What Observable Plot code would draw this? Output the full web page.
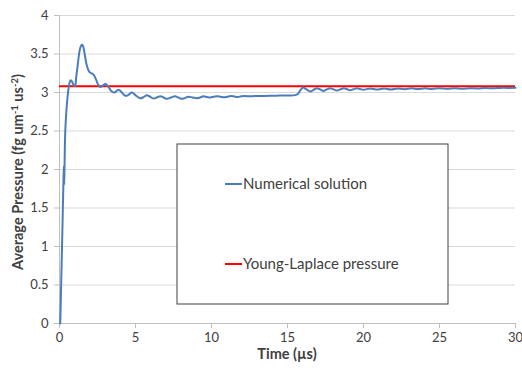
<!DOCTYPE html>
<html><head><meta charset="utf-8">
<script src="https://cdn.jsdelivr.net/npm/d3@7"></script>
<script src="https://cdn.jsdelivr.net/npm/@observablehq/plot@0.6"></script>
<style>body{margin:0;background:#fff} #chart svg{font-family:Lato,"Open Sans",sans-serif}</style>
</head><body><div id="chart"></div>
<script>
const time = [0.05,0.12,0.2,0.26,0.29,0.31,0.34,0.38,0.45,0.52,0.6,0.68,0.75,0.83,0.92,1.02,1.1,1.2,1.32,1.42,1.5,1.58,1.68,1.8,1.95,2.1,2.25,2.4,2.55,2.7,2.85,3.02,3.2,3.4,3.6,3.88,4.1,4.32,4.54,4.76,5.03,5.31,5.53,5.75,5.96,6.18,6.4,6.63,6.85,7.07,7.33,7.6,7.82,8.05,8.27,8.49,8.75,9.04,9.25,9.47,9.7,9.92,10.15,10.37,10.6,10.82,11.05,11.27,11.5,11.72,11.95,12.17,12.6,13.05,13.5,14.0,14.5,15.0,15.5,15.7,15.85,16.02,16.25,16.5,16.72,16.93,17.15,17.37,17.58,17.8,18.03,18.25,18.47,18.7,18.9,19.1,19.33,19.55,19.78,20.0,20.45,20.9,21.35,21.8,22.25,22.7,23.15,23.6,24.05,24.5,25.0,25.5,26.0,26.5,27.0,27.5,28.0,28.5,29.0,29.5,30.0];
const pressure = [0,0.6,1.3,1.85,2.05,1.8,2.15,2.5,2.75,2.92,3.06,3.14,3.16,3.14,3.1,3.08,3.2,3.36,3.54,3.61,3.62,3.58,3.47,3.35,3.27,3.25,3.23,3.17,3.1,3.07,3.09,3.11,3.08,3.02,3.0,3.035,3.0,2.957,2.97,3.0,2.96,2.925,2.94,2.965,2.945,2.922,2.935,2.952,2.935,2.918,2.935,2.95,2.935,2.918,2.93,2.945,2.935,2.925,2.935,2.95,2.942,2.935,2.945,2.952,2.945,2.938,2.946,2.953,2.948,2.942,2.95,2.955,2.95,2.956,2.955,2.958,2.96,2.962,2.966,2.985,3.03,3.065,3.04,3.012,3.035,3.055,3.04,3.02,3.04,3.055,3.04,3.025,3.04,3.055,3.045,3.03,3.042,3.055,3.045,3.035,3.053,3.038,3.053,3.04,3.053,3.042,3.054,3.044,3.054,3.046,3.055,3.048,3.055,3.05,3.056,3.052,3.058,3.055,3.06,3.06,3.062];
const youngLaplace = 3.08;
const seriesNames = ["Numerical solution", "Young-Laplace pressure"];
const seriesColors = ["#4a7ebb", "#ff0000"];
const xTicks = [0, 5, 10, 15, 20, 25, 30];
const xTickLabels = ["0", "5", "10", "15", "20", "25", "30"];
const yTicks = [0, 0.5, 1, 1.5, 2, 2.5, 3, 3.5, 4];
const yTickLabels = ["0", "0.5", "1", "1.5", "2", "2.5", "3", "3.5", "4"];
const xTitle = "Time (µs)";

const numerical = time.map((t, i) => ({t, p: pressure[i]}));
const W = 522, H = 372, mL = 59, mR = 7, mT = 15, mB = 49;

const chart = Plot.plot({
  width: W, height: H, marginLeft: mL, marginRight: mR, marginTop: mT, marginBottom: mB,
  style: {fontFamily: "Lato, 'Open Sans', sans-serif", fontSize: "13px", color: "#404040", background: "#fff", overflow: "visible"},
  x: {domain: [0, 30]},
  y: {domain: [0, 4]},
  marks: [
    Plot.gridY(yTicks, {stroke: "#d9d9d9", strokeOpacity: 1}),
    Plot.ruleX([0], {stroke: "#bfbfbf"}),
    Plot.ruleY([0], {stroke: "#bfbfbf"}),
    Plot.axisX(xTicks, {tickSize: 5, tickPadding: 4, stroke: "#bfbfbf", fill: "#404040", tickFormat: (d, i) => xTickLabels[i], label: null}),
    Plot.axisY(yTicks, {tickSize: 5, tickPadding: 6, stroke: "#bfbfbf", fill: "#404040", tickFormat: (d, i) => yTickLabels[i], label: null}),
    Plot.ruleY([youngLaplace], {stroke: seriesColors[1], strokeWidth: 2}),
    Plot.line(numerical, {x: "t", y: "p", stroke: seriesColors[0], strokeWidth: 2, curve: "catmull-rom"})
  ]
});
document.getElementById("chart").append(chart);

const svg = d3.select(chart);
// axis titles
svg.append("text").attr("x", 287).attr("y", 359).attr("text-anchor", "middle")
  .attr("font-weight", "bold").attr("font-size", 14.5).attr("fill", "#404040").text(xTitle);
const yt = svg.append("text").attr("transform", "translate(23,172) rotate(-90)")
  .attr("text-anchor", "middle").attr("font-weight", "bold").attr("font-size", 14.5).attr("fill", "#404040");
yt.append("tspan").text("Average Pressure (fg um");
yt.append("tspan").attr("baseline-shift", "super").attr("font-size", 9.5).text("-1");
yt.append("tspan").text(" us");
yt.append("tspan").attr("baseline-shift", "super").attr("font-size", 9.5).text("-2");
yt.append("tspan").text(")");

// legend box
const lg = svg.append("g").attr("text-anchor", "start");
lg.append("rect").attr("x", 177).attr("y", 144).attr("width", 271).attr("height", 160)
  .attr("fill", "#fff").attr("stroke", "#404040").attr("stroke-width", 1);
[184, 264].forEach((yy, i) => {
  lg.append("line").attr("x1", 225).attr("x2", 242).attr("y1", yy).attr("y2", yy)
    .attr("stroke", seriesColors[i]).attr("stroke-width", 2);
  lg.append("text").attr("x", 243).attr("y", yy + 5).attr("text-anchor", "start")
    .attr("font-size", 15).attr("fill", "#404040").text(seriesNames[i]);
});
</script></body></html>
